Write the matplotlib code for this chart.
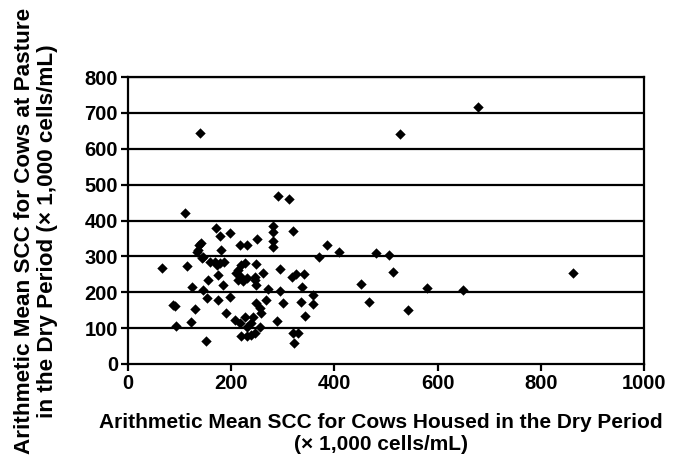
import numpy as np
import matplotlib.pyplot as plt

plt.rcParams["font.family"] = ["Liberation Sans", "DejaVu Sans"]
plt.rcParams["font.weight"] = "bold"

# mean SCC housed (x) vs at pasture (y), x 1,000 cells/mL
housed = [
    66, 88, 91, 94, 111, 115, 122, 125, 130, 133, 136, 138, 141, 143, 146,
    140, 146, 152, 155, 154, 160, 170, 168, 173, 175, 175, 178, 178, 181,
    186, 185, 191, 197, 197,
    207, 210, 213, 213, 217, 217, 217, 220, 220, 223, 226, 226, 230, 231,
    230, 230, 239, 239, 242, 246, 246, 246, 249, 249, 249, 251, 255, 255,
    258, 262, 268, 271,
    281, 281, 281, 281, 288, 291, 294, 294, 300, 312, 317, 320, 320, 321,
    326, 330, 335, 337, 341, 342, 358, 358, 371, 385, 409,
    452, 466, 480, 505, 513, 527, 543, 579, 649, 677, 861,
]
pasture = [
    267, 165, 161, 106, 421, 272, 118, 214, 152, 313, 318, 332, 337, 296, 299,
    643, 207, 63, 233, 183, 283, 380, 285, 276, 248, 178, 358, 281, 318,
    283, 220, 142, 364, 186,
    122, 253, 262, 234, 332, 244, 113, 276, 77, 230, 281, 132, 239, 331,
    104, 77, 113, 81, 132, 234, 242, 86, 279, 220, 169, 349, 155, 104,
    141, 255, 177, 210,
    386, 369, 343, 325, 120, 467, 264, 203, 169, 459, 242, 370, 86, 58,
    251, 86, 172, 216, 251, 135, 192, 166, 298, 331, 313,
    222, 173, 310, 303, 256, 640, 150, 212, 206, 716, 253,
]

x_ticks = [0, 200, 400, 600, 800, 1000]
y_ticks = [0, 100, 200, 300, 400, 500, 600, 700, 800]

fig = plt.figure(figsize=(6.93, 4.59), dpi=100)
ax = fig.add_axes([0.1844, 0.207, 0.7456, 0.6252])

for yv in y_ticks[1:]:
    ax.axhline(yv, color="black", lw=1.6, zorder=1)

ax.scatter(housed, pasture, marker="D", s=28, color="black",
           linewidths=0, zorder=3, clip_on=False)

ax.set_xlim(0, 1000)
ax.set_ylim(0, 800)
ax.set_xticks(x_ticks)
ax.set_yticks(y_ticks)
ax.tick_params(direction="out", length=5, width=1.6, labelsize=14.5, pad=2)
for sp in ax.spines.values():
    sp.set_linewidth(1.6)
    sp.set_color("black")

# axis titles placed directly in figure coords
fig.text(381 / 693, 1 - 434 / 459,
         "Arithmetic Mean SCC for Cows Housed in the Dry Period\n(\u00d7 1,000 cells/mL)",
         ha="center", va="center", fontsize=15, fontweight="bold",
         linespacing=1.2)
fig.text(36 / 693, 1 - 231 / 459,
         "Arithmetic Mean SCC for Cows at Pasture\nin the Dry Period (\u00d7 1,000 cells/mL)",
         ha="center", va="center", rotation=90, fontsize=16.2,
         fontweight="bold", linespacing=1.15)

fig.savefig("out.png", dpi=100)
